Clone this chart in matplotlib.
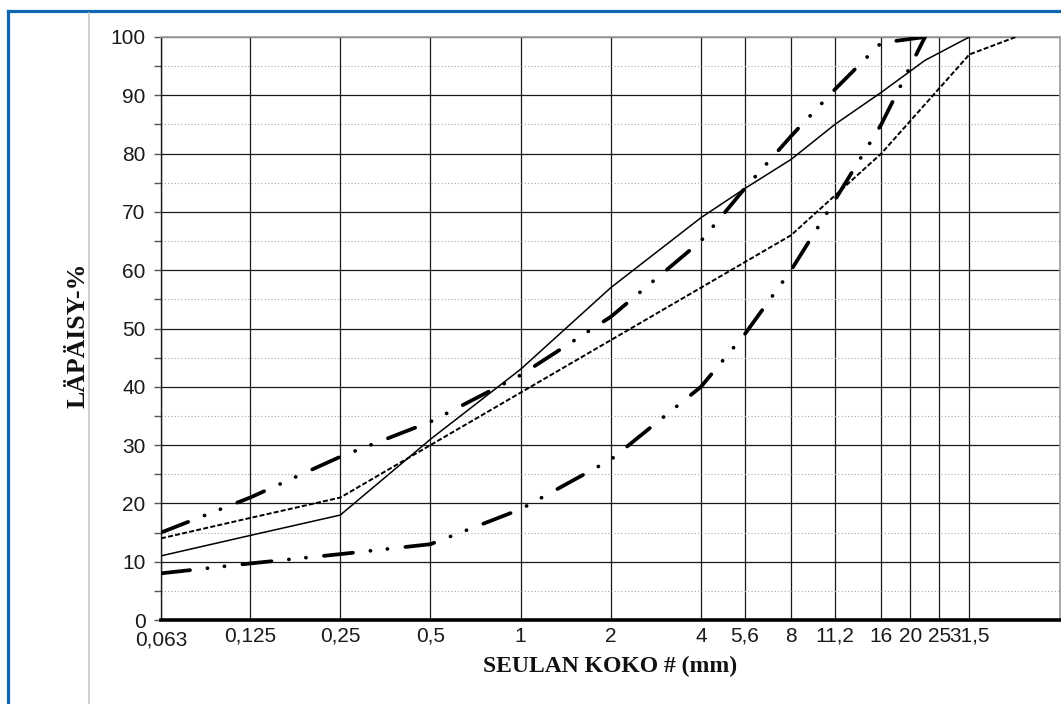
import matplotlib
matplotlib.use("Agg")
import matplotlib.pyplot as plt
from matplotlib.lines import Line2D
from matplotlib.ticker import FixedLocator, NullLocator, MultipleLocator

plt.rcParams['lines.scale_dashes'] = False

# ---- data ----
tick_sizes = [0.063, 0.125, 0.25, 0.5, 1, 2, 4, 5.6, 8, 11.2, 16, 20, 25, 31.5]
tick_labels = ['0,063', '0,125', '0,25', '0,5', '1', '2', '4', '5,6', '8', '11,2',
               '16', '20', '25', '31,5']

solid_x = [0.063, 0.125, 0.25, 0.5, 1, 2, 4, 5.6, 8, 11.2, 16, 22.4, 31.5]
solid_y = [11, 14.5, 18, 31, 43, 57, 69, 74, 79, 85, 90.5, 96, 100]

dashed_x = [0.063, 0.125, 0.25, 0.5, 1, 2, 4, 8, 16, 31.5, 45]
dashed_y = [14, 17.5, 21, 30, 39, 48, 57, 66, 80, 97, 100]

upper_x = [0.063, 0.125, 0.25, 0.5, 1, 2, 4, 5.6, 8, 11.2, 16, 22.4]
upper_y = [15, 21, 28, 34, 42, 52, 65, 74, 83, 91, 99, 100]

lower_x = [0.063, 0.125, 0.25, 0.5, 1, 2, 4, 5.6, 8, 11.2, 16, 22.4]
lower_y = [8, 9.7, 11.3, 13, 19, 27.5, 40, 49, 60, 72, 85, 100]

W, H = 1061, 704
fig = plt.figure(figsize=(W / 100, H / 100), dpi=100)
fig.patch.set_facecolor('white')

# outer frame (blue) and grey separator
blue = '#0f67b4'
fig.add_artist(Line2D([8 / W, 8 / W], [0, 1 - 11 / H], color=blue, lw=2.3,
                      transform=fig.transFigure, solid_capstyle='projecting'))
fig.add_artist(Line2D([8 / W, 1], [1 - 11 / H, 1 - 11 / H], color=blue, lw=2.3,
                      transform=fig.transFigure, solid_capstyle='projecting'))
fig.add_artist(Line2D([89 / W, 89 / W], [0, 1 - 12.5 / H], color='#c4c4c4', lw=1.1,
                      transform=fig.transFigure))

L, R, T, B = 161, 1059.5, 37, 620
ax = fig.add_axes([L / W, (H - B) / H, (R - L) / W, (B - T) / H])
ax.set_xscale('log')
ax.set_xlim(0.063, 63)
ax.set_ylim(0, 100)

# grid
ax.xaxis.set_major_locator(FixedLocator(tick_sizes))
ax.xaxis.set_minor_locator(NullLocator())
ax.set_xticks(tick_sizes)
ax.set_xticklabels(tick_labels)
ax.yaxis.set_major_locator(MultipleLocator(10))
ax.yaxis.set_minor_locator(MultipleLocator(5))
ax.grid(which='major', axis='x', color='#1a1a1a', lw=0.9)
ax.grid(which='major', axis='y', color='#1a1a1a', lw=0.9)
ax.grid(which='minor', axis='y', color='#a8a8a8', lw=0.8, linestyle=(0, (0.8, 1.6)))
ax.set_axisbelow(True)

# lines
ax.plot(solid_x, solid_y, color='black', lw=1.1, zorder=3)
ax.plot(dashed_x, dashed_y, color='black', lw=1.4, linestyle=(0, (3.6, 1.6)), zorder=3)
ddot = (0, (21, 12.6, 0.1, 12.2, 0.1, 13))
for xs, ys in ((upper_x, upper_y), (lower_x, lower_y)):
    ln, = ax.plot(xs, ys, color='black', lw=2.7, linestyle=ddot, zorder=3)
    ln.set_dash_capstyle('round')

# spines
for s in ('top', 'right'):
    ax.spines[s].set_color('#a0a0a0')
    ax.spines[s].set_linewidth(1.3)
ax.spines['left'].set_color('#1a1a1a')
ax.spines['left'].set_linewidth(1.0)
ax.spines['bottom'].set_color('black')
ax.spines['bottom'].set_linewidth(2.6)
ax.spines['bottom'].set_zorder(4)

# ticks
ax.tick_params(axis='x', which='both', length=0, pad=5, labelsize=15, colors='#1a1a1a')
ax.tick_params(axis='y', which='both', length=5, width=1.0, color='#555555',
               direction='out', pad=6, labelsize=15, labelcolor='#1a1a1a')
for lab in ax.get_xticklabels() + ax.get_yticklabels():
    lab.set_family(['Liberation Sans', 'DejaVu Sans'])
ax.get_xticklabels()[0].set_y(-0.006)

# axis labels
fig.text(610 / W, 1 - 666 / H, 'SEULAN KOKO # (mm)', ha='center', va='center',
         color='#111111', family=['Liberation Serif', 'DejaVu Serif'],
         weight='bold', size=17)
fig.text(78 / W, 1 - 335 / H, 'LÄPÄISY-%', ha='center', va='center', rotation=90,
         color='#111111', family=['Liberation Serif', 'DejaVu Serif'],
         weight='bold', size=18.5)

fig.savefig('out.png', dpi=100)
